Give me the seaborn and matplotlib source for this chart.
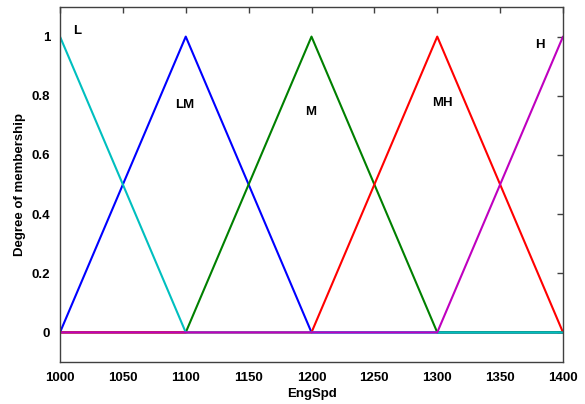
import seaborn as sns
import matplotlib
matplotlib.use('Agg')
import matplotlib.pyplot as plt
import pandas as pd

# Membership functions (breakpoints over the EngSpd range)
mf_names = ['L', 'LM', 'M', 'MH', 'H']
mf_x = [
    [1000, 1100, 1400],
    [1000, 1100, 1200, 1400],
    [1000, 1100, 1200, 1300, 1400],
    [1000, 1200, 1300, 1400],
    [1000, 1300, 1400],
]
mf_y = [
    [1, 0, 0],
    [0, 1, 0, 0],
    [0, 0, 1, 0, 0],
    [0, 0, 1, 0],
    [0, 0, 1],
]
mf_colors = ['#00bfbf', '#0000ff', '#008000', '#ff0000', '#bf00bf']
# drawing order as in the picture (L's zero line sits over M's, H's over L's)
draw_order = [1, 2, 3, 0, 4]

# label positions
label_x = [1014, 1099, 1199, 1304, 1382]
label_y = [1.02, 0.77, 0.745, 0.775, 0.97]

x_ticks = [1000, 1050, 1100, 1150, 1200, 1250, 1300, 1350, 1400]
y_ticks = [0, 0.2, 0.4, 0.6, 0.8, 1]
y_tick_labels = ['0', '0.2', '0.4', '0.6', '0.8', '1']

sns.set_style('white')
plt.rcParams['font.family'] = ['Liberation Sans', 'DejaVu Sans']
plt.rcParams['font.weight'] = 'bold'
plt.rcParams['text.color'] = 'black'
plt.rcParams['axes.labelcolor'] = 'black'
plt.rcParams['xtick.color'] = 'black'
plt.rcParams['ytick.color'] = 'black'

fig = plt.figure(figsize=(5.85, 4.04), dpi=100)
ax = fig.add_axes([60 / 585, 42 / 404, 503 / 585, 355 / 404])

for i in draw_order:
    df = pd.DataFrame({'x': mf_x[i], 'y': mf_y[i]})
    sns.lineplot(data=df, x='x', y='y', color=mf_colors[i], linewidth=1.5,
                 sort=False, estimator=None, ax=ax)

for name, lx, ly in zip(mf_names, label_x, label_y):
    ax.text(lx, ly, name, ha='center', va='center', fontsize=9.5,
            fontweight='bold', color='black')

ax.set_xlim(1000, 1400)
ax.set_ylim(-0.1, 1.1)
ax.set_xticks(x_ticks)
ax.set_yticks(y_ticks)
ax.set_yticklabels(y_tick_labels)
ax.tick_params(direction='in', top=True, right=True, length=4, width=1,
               labelsize=9.5, pad=7)
ax.tick_params(colors='#404040', labelcolor='black')
for lab in ax.get_xticklabels() + ax.get_yticklabels():
    lab.set_fontweight('bold')
for sp in ax.spines.values():
    sp.set_color('#404040')
    sp.set_linewidth(1)

ax.set_xlabel('EngSpd', fontsize=9.5, fontweight='bold', labelpad=3)
ax.set_ylabel('Degree of membership', fontsize=9.5, fontweight='bold', labelpad=4)

fig.savefig('out.png', dpi=100)
